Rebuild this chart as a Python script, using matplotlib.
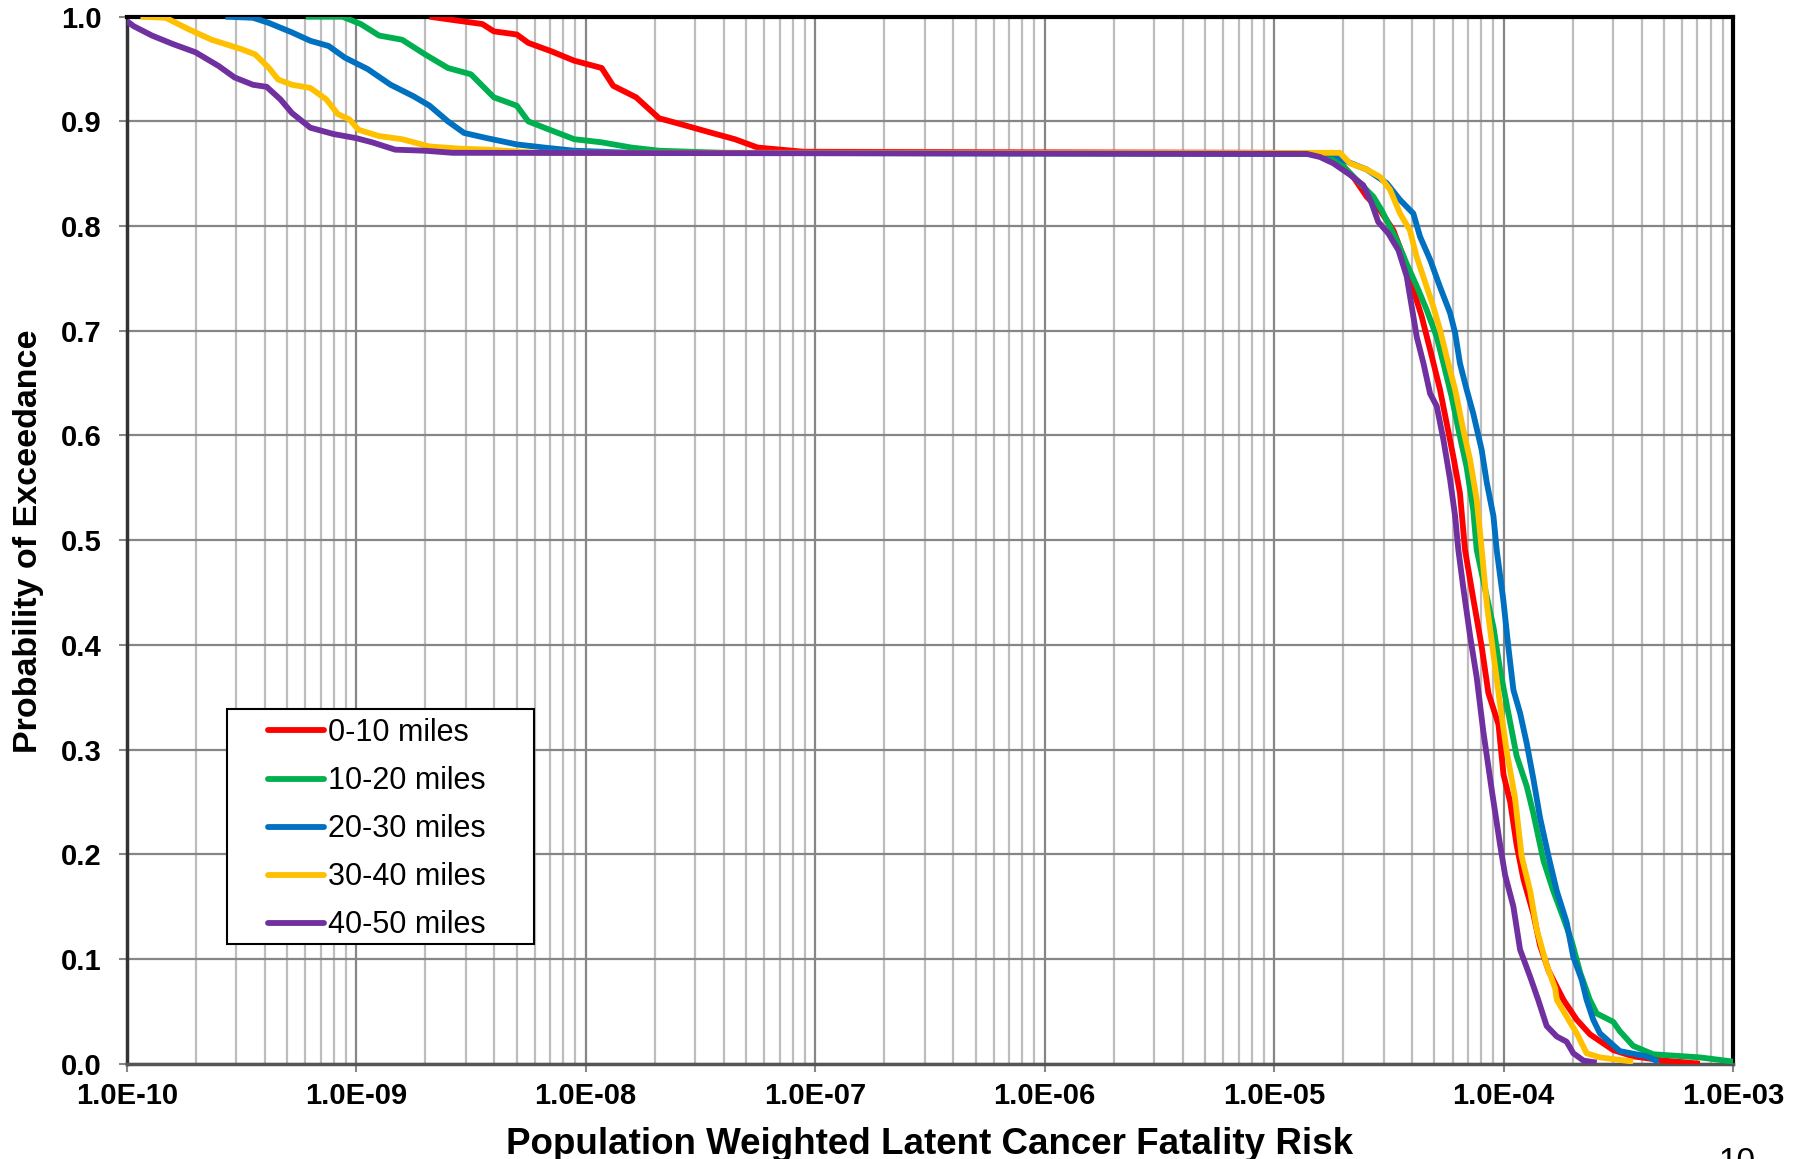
import matplotlib
matplotlib.use('Agg')
import matplotlib.pyplot as plt
import numpy as np
from matplotlib.patches import Rectangle
from matplotlib.lines import Line2D

plt.rcParams['font.family'] = ['Liberation Sans', 'DejaVu Sans']

# ------------------------------------------------------------
# Data: log10(risk) and exceedance probability
# ------------------------------------------------------------
series_labels = ['0-10 miles', '10-20 miles', '20-30 miles', '30-40 miles', '40-50 miles']
series_colors = ['#FF0000', '#00B050', '#0070C0', '#FFC000', '#7030A0']

red_log_risk = [-8.68, -8.55, -8.45, -8.40, -8.30, -8.25, -8.15, -8.05, -7.93, -7.88,
                -7.78, -7.68, -7.58, -7.45, -7.35, -7.25, -7.05, -5.00, -4.79, -4.698,
                -4.655, -4.596, -4.538, -4.480, -4.437, -4.393, -4.357, -4.320, -4.277, -4.248,
                -4.219, -4.190, -4.168, -4.131, -4.095, -4.066, -4.044, -4.022, -4.000, -3.971,
                -3.943, -3.913, -3.870, -3.841, -3.804, -3.739, -3.681, -3.623, -3.522, -3.435,
                -3.30, -3.144]
red_prob = [1.000, 0.996, 0.993, 0.986, 0.983, 0.975, 0.967, 0.958, 0.951, 0.934,
            0.923, 0.903, 0.897, 0.889, 0.883, 0.875, 0.871, 0.870, 0.869, 0.857,
            0.847, 0.828, 0.815, 0.796, 0.771, 0.739, 0.714, 0.682, 0.644, 0.612,
            0.580, 0.545, 0.491, 0.443, 0.398, 0.354, 0.339, 0.324, 0.276, 0.250,
            0.209, 0.176, 0.143, 0.113, 0.089, 0.061, 0.042, 0.028, 0.013, 0.007,
            0.003, 0.000]

green_log_risk = [-9.22, -9.06, -8.98, -8.90, -8.80, -8.70, -8.60, -8.50, -8.40, -8.30,
                  -8.25, -8.18, -8.05, -7.93, -7.80, -7.68, -7.40, -4.79, -4.698, -4.626,
                  -4.567, -4.531, -4.466, -4.422, -4.371, -4.335, -4.291, -4.262, -4.226, -4.190,
                  -4.161, -4.132, -4.117, -4.081, -4.044, -4.015, -3.979, -3.943, -3.899, -3.870,
                  -3.826, -3.783, -3.739, -3.703, -3.666, -3.624, -3.594, -3.522, -3.493, -3.435,
                  -3.348, -3.144, -3.000]
green_prob = [1.000, 1.000, 0.993, 0.982, 0.978, 0.964, 0.951, 0.945, 0.923, 0.915,
              0.900, 0.894, 0.883, 0.880, 0.875, 0.872, 0.870, 0.869, 0.857, 0.841,
              0.828, 0.815, 0.787, 0.764, 0.739, 0.720, 0.694, 0.669, 0.637, 0.599,
              0.570, 0.529, 0.491, 0.454, 0.417, 0.376, 0.335, 0.294, 0.265, 0.239,
              0.194, 0.165, 0.139, 0.117, 0.087, 0.061, 0.048, 0.040, 0.031, 0.017,
              0.009, 0.006, 0.002]

blue_log_risk = [-9.57, -9.45, -9.38, -9.28, -9.20, -9.12, -9.05, -8.95, -8.85, -8.75,
                 -8.68, -8.60, -8.53, -8.43, -8.30, -8.18, -8.05, -7.80, -4.74, -4.698,
                 -4.596, -4.509, -4.451, -4.393, -4.364, -4.320, -4.277, -4.233, -4.211, -4.190,
                 -4.161, -4.132, -4.095, -4.073, -4.044, -4.030, -4.001, -3.979, -3.957, -3.928,
                 -3.899, -3.870, -3.841, -3.804, -3.768, -3.725, -3.696, -3.659, -3.638, -3.609,
                 -3.580, -3.493, -3.376, -3.325]
blue_prob = [1.000, 0.999, 0.994, 0.985, 0.977, 0.972, 0.961, 0.950, 0.935, 0.924,
             0.915, 0.900, 0.889, 0.884, 0.878, 0.875, 0.872, 0.870, 0.869, 0.863,
             0.854, 0.841, 0.825, 0.812, 0.790, 0.768, 0.742, 0.717, 0.698, 0.669,
             0.644, 0.621, 0.586, 0.555, 0.523, 0.491, 0.443, 0.398, 0.357, 0.335,
             0.306, 0.272, 0.235, 0.198, 0.165, 0.135, 0.102, 0.080, 0.061, 0.042,
             0.029, 0.012, 0.007, 0.002]

yellow_log_risk = [-9.94, -9.83, -9.73, -9.63, -9.50, -9.44, -9.38, -9.34, -9.28, -9.20,
                   -9.13, -9.08, -9.03, -8.99, -8.90, -8.80, -8.68, -8.55, -8.43, -8.20,
                   -4.887, -4.713, -4.669, -4.596, -4.538, -4.495, -4.451, -4.408, -4.379, -4.335,
                   -4.306, -4.277, -4.241, -4.211, -4.175, -4.146, -4.117, -4.095, -4.073, -4.044,
                   -4.015, -3.986, -3.950, -3.921, -3.884, -3.855, -3.812, -3.775, -3.768, -3.725,
                   -3.681, -3.638, -3.580, -3.435]
yellow_prob = [1.000, 0.999, 0.988, 0.978, 0.969, 0.964, 0.951, 0.940, 0.935, 0.932,
               0.921, 0.907, 0.902, 0.892, 0.886, 0.883, 0.876, 0.874, 0.873, 0.870,
               0.870, 0.870, 0.860, 0.854, 0.847, 0.835, 0.812, 0.796, 0.771, 0.742,
               0.723, 0.701, 0.669, 0.644, 0.605, 0.577, 0.539, 0.491, 0.439, 0.391,
               0.343, 0.298, 0.254, 0.198, 0.165, 0.128, 0.094, 0.072, 0.061, 0.045,
               0.029, 0.010, 0.006, 0.002]

purple_log_risk = [-10.0, -9.97, -9.89, -9.80, -9.70, -9.60, -9.53, -9.45, -9.39, -9.33,
                   -9.28, -9.20, -9.10, -9.00, -8.93, -8.83, -8.70, -8.58, -4.887, -4.858,
                   -4.800, -4.742, -4.669, -4.611, -4.575, -4.546, -4.502, -4.458, -4.422, -4.400,
                   -4.378, -4.349, -4.320, -4.291, -4.262, -4.233, -4.211, -4.197, -4.175, -4.146,
                   -4.117, -4.088, -4.051, -4.015, -3.993, -3.957, -3.928, -3.884, -3.849, -3.812,
                   -3.768, -3.725, -3.696, -3.652, -3.594]
purple_prob = [0.996, 0.991, 0.982, 0.974, 0.966, 0.953, 0.942, 0.935, 0.933, 0.921,
               0.908, 0.894, 0.888, 0.884, 0.880, 0.873, 0.872, 0.870, 0.869, 0.869,
               0.866, 0.860, 0.849, 0.839, 0.822, 0.804, 0.793, 0.777, 0.752, 0.723,
               0.694, 0.669, 0.640, 0.628, 0.596, 0.558, 0.523, 0.491, 0.454, 0.409,
               0.369, 0.317, 0.261, 0.209, 0.180, 0.150, 0.109, 0.083, 0.061, 0.036,
               0.026, 0.021, 0.010, 0.003, 0.001]

x_tick_values = [1e-10, 1e-9, 1e-8, 1e-7, 1e-6, 1e-5, 1e-4, 1e-3]
x_tick_labels = ['1.0E-10', '1.0E-09', '1.0E-08', '1.0E-07',
                 '1.0E-06', '1.0E-05', '1.0E-04', '1.0E-03']
y_tick_values = [0.0, 0.1, 0.2, 0.3, 0.4, 0.5, 0.6, 0.7, 0.8, 0.9, 1.0]

all_series = [(red_log_risk, red_prob), (green_log_risk, green_prob),
              (blue_log_risk, blue_prob), (yellow_log_risk, yellow_prob),
              (purple_log_risk, purple_prob)]

# ------------------------------------------------------------
# Figure
# ------------------------------------------------------------
fig = plt.figure(figsize=(18.08, 11.59), dpi=100)
ax = fig.add_axes([0.07008, 0.08223, 0.88844, 0.90336])

for (lx, p), col in zip(all_series, series_colors):
    ax.plot(10 ** np.array(lx), p, color=col, lw=4.2, solid_joinstyle='round',
            solid_capstyle='butt', zorder=3)

ax.set_xscale('log')
ax.set_xlim(1e-10, 1e-3)
ax.set_ylim(0, 1)

# grid: decades dark, sub-decades light
minor_x = [m * 10.0 ** k for k in range(-10, -3) for m in range(2, 10)]
ax.set_xticks(x_tick_values)
ax.set_xticklabels(x_tick_labels)
ax.set_xticks(minor_x, minor=True)
ax.set_xticklabels([], minor=True)
ax.set_yticks(y_tick_values)
ax.set_yticklabels([f'{v:.1f}' for v in y_tick_values])

ax.grid(which='minor', axis='x', color='#BDBDBD', lw=1.6)
ax.grid(which='major', axis='x', color='#868686', lw=1.6)
ax.grid(which='major', axis='y', color='#868686', lw=1.6)
ax.set_axisbelow(True)

ax.tick_params(axis='x', which='major', direction='out', length=6, width=1.5,
               color='#868686', pad=7, labelsize=21)
ax.tick_params(axis='x', which='minor', length=0)
ax.tick_params(axis='y', which='major', direction='out', length=6, width=1.5,
               color='#868686', pad=12, labelsize=21)
for lab in ax.get_xticklabels() + ax.get_yticklabels():
    lab.set_fontweight('bold')

ax.spines['top'].set_color('black')
ax.spines['top'].set_linewidth(3)
ax.spines['right'].set_color('black')
ax.spines['right'].set_linewidth(3)
ax.spines['left'].set_color('#333333')
ax.spines['left'].set_linewidth(2.5)
ax.spines['bottom'].set_color('#555555')
ax.spines['bottom'].set_linewidth(2.5)

# axis titles
fig.text(0.5142, 0.004, 'Population Weighted Latent Cancer Fatality Risk',
         ha='center', va='baseline', fontsize=26.5, fontweight='bold')
fig.text(0.016, 0.533, 'Probability of Exceedance', rotation=90,
         ha='center', va='center', fontsize=24.5, fontweight='bold')
fig.text(0.9605, -0.010, '10', ha='center', va='baseline', fontsize=24)

# legend with a wide box drawn by hand
ax.add_patch(Rectangle((0.0624, 0.1146), 0.1912, 0.2244, transform=ax.transAxes,
                       facecolor='white', edgecolor='black', lw=1.5, zorder=4))
handles = [Line2D([], [], color=c, lw=4.2, solid_capstyle='round') for c in series_colors]
leg = ax.legend(handles, series_labels, loc='upper left', bbox_to_anchor=(0.088, 0.3300),
                frameon=False, fontsize=22, handlelength=1.84, handletextpad=0.12,
                labelspacing=0.59, borderpad=0, borderaxespad=0)
leg.set_zorder(5)

fig.savefig('out.png', dpi=100)
